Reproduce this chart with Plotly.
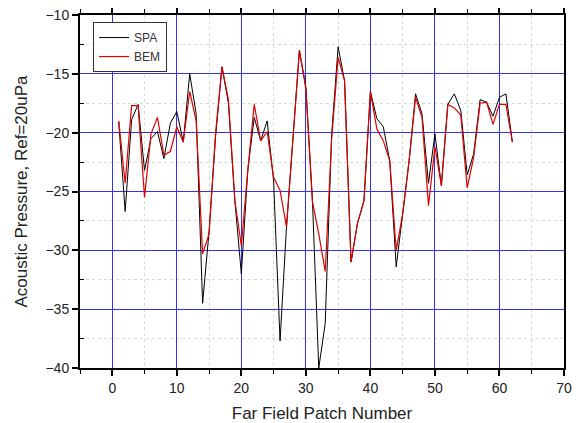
import plotly.graph_objects as go

patch = list(range(1, 63))
spa = [-19.1, -26.7, -18.9, -17.6, -23.2, -20.5, -19.9, -22.2, -19.2, -18.2,
       -20.8, -15.0, -18.4, -34.5, -28.4, -20.4, -14.4, -17.5, -25.8, -32.0,
       -23.2, -18.7, -20.7, -19.0, -24.1, -37.7, -28.0, -20.1, -13.0, -16.1,
       -25.5, -40.0, -36.2, -20.1, -12.7, -15.6, -31.0, -27.7, -25.8, -16.5,
       -18.8, -19.5, -22.4, -31.4, -26.9, -22.4, -16.7, -18.4, -24.3, -20.1,
       -24.5, -17.6, -16.7, -18.1, -23.6, -21.8, -17.2, -17.4, -18.6, -17.0,
       -16.7, -20.8]
bem = [-19.0, -24.3, -17.7, -17.7, -25.5, -20.1, -18.7, -21.9, -21.6, -19.5,
       -20.8, -16.5, -19.0, -30.3, -28.6, -20.1, -14.4, -17.2, -25.8, -29.6,
       -23.2, -17.6, -20.7, -19.9, -23.8, -24.9, -28.0, -20.1, -13.0, -16.3,
       -25.8, -28.6, -31.8, -20.5, -13.6, -15.6, -31.0, -27.7, -25.8, -16.5,
       -19.7, -20.7, -22.4, -30.0, -26.9, -22.4, -17.0, -18.7, -26.2, -21.2,
       -24.5, -17.6, -17.9, -18.5, -24.7, -22.1, -17.5, -17.4, -19.3, -17.6,
       -17.6, -20.8]

fig = go.Figure()
fig.add_trace(go.Scatter(x=patch, y=spa, mode="lines", name="SPA",
                         line=dict(color="black", width=1)))
fig.add_trace(go.Scatter(x=patch, y=bem, mode="lines", name="BEM",
                         line=dict(color="#e00000", width=1.2)))

axis_common = dict(
    showline=True, linecolor="black", linewidth=2,
    ticks="outside", ticklen=6, tickwidth=1.5, tickcolor="black",
    showgrid=True, gridcolor="#3030f0", gridwidth=1,
    zeroline=False, automargin=False, ticklabeloverflow="allow",
    tickfont=dict(family="Liberation Sans, Arial", size=14, color="#222"),
)

fig.update_xaxes(
    range=[-5, 70], dtick=10, tick0=0, mirror="allticks",
    minor=dict(dtick=10, tick0=5, ticks="outside", ticklen=4, tickwidth=1.2,
               tickcolor="black",
               showgrid=True, gridcolor="rgb(205,225,205)", griddash="dot"),
    title=dict(text="Far Field Patch Number", standoff=12,
               font=dict(family="Liberation Sans, Arial", size=17, color="#222")),
    **axis_common)
fig.update_yaxes(
    range=[-40, -10], dtick=5, mirror=True,
    minor=dict(dtick=5, tick0=-2.5, ticks="inside", ticklen=4, tickwidth=1.2,
               tickcolor="black",
               showgrid=True, gridcolor="rgb(205,225,205)", griddash="dot"),
    title=dict(text="Acoustic Pressure, Ref=20uPa", standoff=14,
               font=dict(family="Liberation Sans, Arial", size=17, color="#222")),
    **axis_common)

fig.update_layout(
    width=576, height=415,
    margin=dict(l=72, r=20, t=7, b=55),
    plot_bgcolor="white", paper_bgcolor="white",
    showlegend=True,
    legend=dict(x=0.027, y=0.98, xanchor="left", yanchor="top",
                bgcolor="white", bordercolor="#333", borderwidth=1,
                font=dict(family="Liberation Sans, Arial", size=12, color="#333"),
                tracegroupgap=0, itemwidth=30),
)

fig.write_html("out.html")
